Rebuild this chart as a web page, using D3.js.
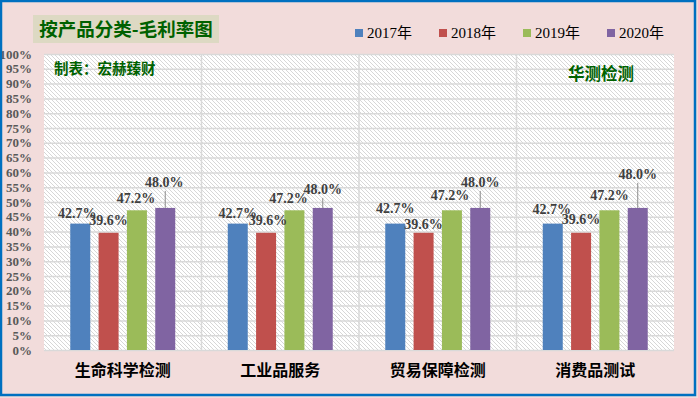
<!DOCTYPE html>
<html>
<head>
<meta charset="utf-8">
<script src="https://cdn.jsdelivr.net/npm/d3@7"></script>
<style>
  body { margin: 0; background: #fff; }
  svg { display: block; }
</style>
</head>
<body>
<div id="chart_container"></div>
<script>
// data
var categories = ["生命科学检测", "工业品服务", "贸易保障检测", "消费品测试"];
var seriesNames = ["2017年", "2018年", "2019年", "2020年"];
var v2017 = [0.427, 0.427, 0.427, 0.427];
var v2018 = [0.396, 0.396, 0.396, 0.396];
var v2019 = [0.472, 0.472, 0.472, 0.472];
var v2020 = [0.480, 0.480, 0.480, 0.480];
var yTicks = d3.range(0, 21).map(function(i) { return i * 5 / 100; });

var seriesValues = [v2017, v2018, v2019, v2020];
var colors = ["#4f81bd", "#c0504d", "#9bbb59", "#8064a2"];

// label nudges (dx, dy above bar top) per category / series, as dragged in the original
var labelNudge = [
    [[-3, -6], [0, -8], [-1, -7], [-1, -21]],
    [[0, -6], [2, -8], [-6, -7], [0, -14]],
    [[0, -11], [0, -4], [-2, -10], [0, -21]],
    [[-1, -10], [0, -9], [0, -10], [0, -29]]
];

var serif = "'Liberation Serif', 'Times New Roman', serif";
var cjk = "'Noto Sans CJK SC', sans-serif";

var W = 698, H = 398;
var plot = { left: 44, right: 674, top: 54, bottom: 350 };

var svg = d3.select("#chart_container").append("svg")
    .attr("width", W)
    .attr("height", H);

// hatch pattern
var defs = svg.append("defs");
var pat = defs.append("pattern")
    .attr("id", "hatch")
    .attr("patternUnits", "userSpaceOnUse")
    .attr("width", 4).attr("height", 4);
pat.append("rect").attr("width", 4).attr("height", 4).attr("fill", "#fff");
pat.append("path")
    .attr("d", "M-1,-1 L5,5 M-1,3 L1,5 M3,-1 L5,1")
    .attr("stroke", "#d3d3d3")
    .attr("stroke-width", 0.9);

// background
svg.append("rect")
    .attr("x", 0).attr("y", 0).attr("width", W).attr("height", H)
    .attr("fill", "#f2dcdb");

// plot area
svg.append("rect")
    .attr("x", plot.left).attr("y", plot.top)
    .attr("width", plot.right - plot.left)
    .attr("height", plot.bottom - plot.top)
    .attr("fill", "url(#hatch)");

// scales
var x0 = d3.scaleBand().domain(categories).range([plot.left, plot.right]);
var x1 = d3.scaleBand().domain(seriesNames)
    .range([0, x0.bandwidth()])
    .paddingInner(0.294)
    .paddingOuter(0.927);
var y = d3.scaleLinear().domain([0, 1]).range([plot.bottom, plot.top]);

// horizontal gridlines
svg.append("g")
    .attr("transform", "translate(" + plot.left + ",0)")
    .call(d3.axisLeft(y).tickValues(yTicks)
        .tickSize(-(plot.right - plot.left)).tickFormat(""))
    .call(function(g) {
        g.select(".domain").remove();
        g.selectAll("line").attr("stroke", "#d9d9d9").attr("stroke-width", 1.5);
    });

// vertical separators
svg.append("g")
    .selectAll("line")
    .data(categories.slice(1))
    .join("line")
    .attr("x1", function(d) { return x0(d); })
    .attr("x2", function(d) { return x0(d); })
    .attr("y1", plot.top).attr("y2", plot.bottom)
    .attr("stroke", "#d9d9d9").attr("stroke-width", 1.5);

// y axis labels
svg.append("g")
    .attr("transform", "translate(34,0)")
    .call(d3.axisLeft(y).tickValues(yTicks).tickSize(0).tickPadding(2)
        .tickFormat(d3.format(".0%")))
    .call(function(g) {
        g.select(".domain").remove();
        g.selectAll("text")
            .attr("fill", "#595959")
            .style("font-family", serif)
            .style("font-weight", "bold")
            .style("font-size", "13px");
    });

// bars
var rows = [];
categories.forEach(function(c, ci) {
    seriesNames.forEach(function(s, si) {
        rows.push({ cat: c, ci: ci, s: s, si: si, v: seriesValues[si][ci] });
    });
});

svg.append("g")
    .selectAll("rect")
    .data(rows)
    .join("rect")
    .attr("x", function(d) { return x0(d.cat) + x1(d.s); })
    .attr("y", function(d) { return y(d.v); })
    .attr("width", x1.bandwidth())
    .attr("height", function(d) { return y(0) - y(d.v); })
    .attr("fill", function(d) { return colors[d.si]; });

// leader lines for dragged labels
svg.append("g")
    .selectAll("line")
    .data(rows.filter(function(d) { return labelNudge[d.ci][d.si][1] < -12; }))
    .join("line")
    .attr("x1", function(d) { return x0(d.cat) + x1(d.s) + x1.bandwidth() / 2; })
    .attr("x2", function(d) { return x0(d.cat) + x1(d.s) + x1.bandwidth() / 2; })
    .attr("y1", function(d) { return y(d.v); })
    .attr("y2", function(d) { return y(d.v) + labelNudge[d.ci][d.si][1] + 4; })
    .attr("stroke", "#8c8c8c").attr("stroke-width", 1);

// data labels
svg.append("g")
    .selectAll("text")
    .data(rows)
    .join("text")
    .attr("x", function(d) { return x0(d.cat) + x1(d.s) + x1.bandwidth() / 2 + labelNudge[d.ci][d.si][0]; })
    .attr("y", function(d) { return y(d.v) + labelNudge[d.ci][d.si][1]; })
    .attr("text-anchor", "middle")
    .attr("fill", "#404040")
    .style("font-family", serif)
    .style("font-weight", "bold")
    .style("font-size", "14px")
    .text(function(d) { return d3.format(".1%")(d.v); });

// category labels
svg.append("g")
    .selectAll("text")
    .data(categories)
    .join("text")
    .attr("x", function(d) { return x0(d) + x0.bandwidth() / 2; })
    .attr("y", 376)
    .attr("text-anchor", "middle")
    .attr("fill", "#000")
    .style("font-family", cjk)
    .style("font-weight", "bold")
    .style("font-size", "16px")
    .text(function(d) { return d; });

// title
svg.append("rect")
    .attr("x", 33).attr("y", 15).attr("width", 186).attr("height", 28)
    .attr("fill", "#ddd9c3");
svg.append("text")
    .attr("x", 126).attr("y", 36)
    .attr("text-anchor", "middle")
    .attr("fill", "#006100")
    .style("font-family", cjk)
    .style("font-weight", "bold")
    .style("font-size", "18.5px")
    .text("按产品分类-毛利率图");

// legend
var legend = svg.append("g")
    .selectAll("g")
    .data(seriesNames)
    .join("g")
    .attr("transform", function(d, i) { return "translate(" + (355 + i * 84) + ",0)"; });
legend.append("rect")
    .attr("x", 0).attr("y", 29).attr("width", 8).attr("height", 8)
    .attr("fill", function(d, i) { return colors[i]; });
legend.append("text")
    .attr("x", 12).attr("y", 37.5)
    .attr("fill", "#000")
    .style("font-family", "'Liberation Serif', 'Noto Sans CJK SC', serif")
    .style("font-size", "15px")
    .text(function(d) { return d; });

// annotations
svg.append("text")
    .attr("x", 54).attr("y", 74)
    .attr("fill", "#006100")
    .style("font-family", cjk)
    .style("font-weight", "bold")
    .style("font-size", "14.5px")
    .text("制表：宏赫臻财");
svg.append("text")
    .attr("x", 568).attr("y", 80)
    .attr("fill", "#006100")
    .style("font-family", cjk)
    .style("font-weight", "bold")
    .style("font-size", "16.5px")
    .text("华测检测");

// outer border
svg.append("rect")
    .attr("x", 1).attr("y", 1).attr("width", 694).attr("height", 394)
    .attr("fill", "none")
    .attr("stroke", "#0070c0")
    .attr("stroke-width", 2.5);
</script>
</body>
</html>
